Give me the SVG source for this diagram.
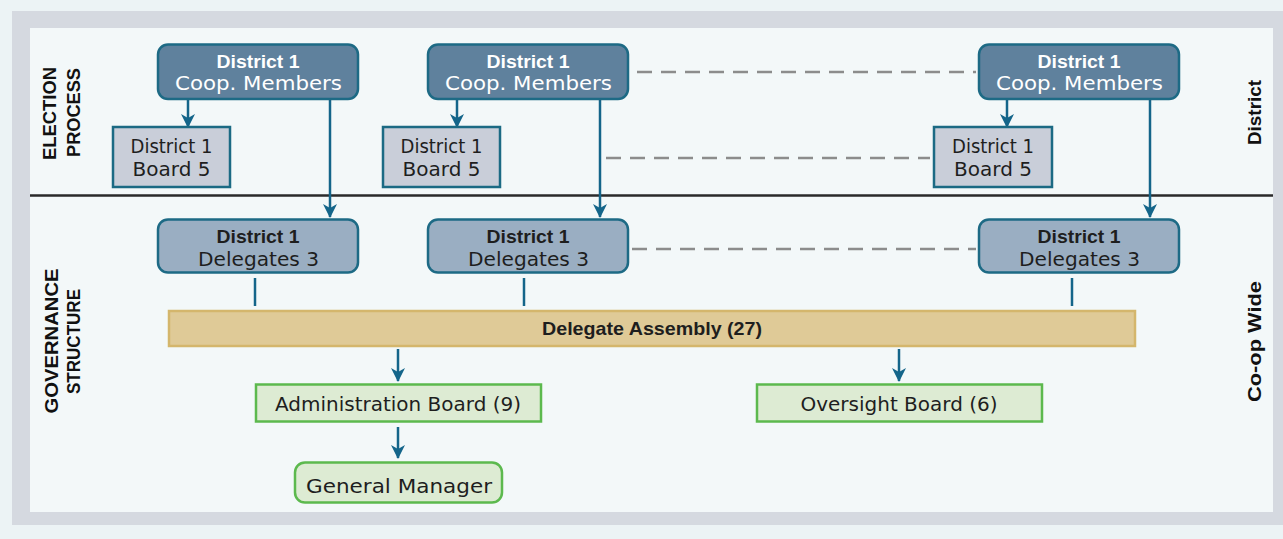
<svg xmlns="http://www.w3.org/2000/svg" width="1283" height="539" viewBox="0 0 1283 539">
<style>
.reg{font-family:"DejaVu Sans","Liberation Sans",sans-serif;font-size:19px;fill:#1e1e1e;text-anchor:middle}
.bold{font-family:"Liberation Sans",Arial,sans-serif;font-weight:bold;font-size:19px;fill:#1e1e1e;text-anchor:middle}
.lbl{font-family:"Liberation Sans",Arial,sans-serif;font-weight:bold;font-size:18px;fill:#111;text-anchor:middle}
.white{fill:#ffffff}
.coop{fill:#5f819d;stroke:#1d6a85;stroke-width:2.5}
.board{fill:#c9ced9;stroke:#1b6a84;stroke-width:2.5}
.deleg{fill:#9aaec2;stroke:#1d6a85;stroke-width:2.5}
.green{fill:#ddebd3;stroke:#5cb94e;stroke-width:2.5}
.arrow{stroke:#14658a;stroke-width:2.5;fill:none}
.dash{stroke:#8c8c8c;stroke-width:2.5;stroke-dasharray:15 9;fill:none}
</style>
<defs>
<marker id="ah" viewBox="0 0 14 14" refX="13" refY="7" markerWidth="14" markerHeight="14" markerUnits="userSpaceOnUse" orient="auto">
<path d="M0,0 L14,7 L0,14 L4,7 Z" fill="#14658a"/>
</marker>
</defs>
<rect x="0" y="0" width="1283" height="539" fill="#ecf3f5"/>
<rect x="12" y="11" width="1271" height="514" fill="#d5d9e0"/>
<rect x="30" y="28" width="1243" height="484" fill="#f3f8f9"/>
<line x1="30" y1="195.5" x2="1273" y2="195.5" stroke="#2a2a2a" stroke-width="2.5"/>

<g id="side-labels">
<text class="lbl" transform="translate(56,113.5) rotate(-90)" textLength="93" lengthAdjust="spacingAndGlyphs">ELECTION</text>
<text class="lbl" transform="translate(80,112.5) rotate(-90)" textLength="89" lengthAdjust="spacingAndGlyphs">PROCESS</text>
<text class="lbl" transform="translate(58,341) rotate(-90)" textLength="145" lengthAdjust="spacingAndGlyphs">GOVERNANCE</text>
<text class="lbl" transform="translate(80,341.5) rotate(-90)" textLength="105" lengthAdjust="spacingAndGlyphs">STRUCTURE</text>
<text class="lbl" transform="translate(1261,112.5) rotate(-90)" textLength="65" lengthAdjust="spacingAndGlyphs">District</text>
<text class="lbl" transform="translate(1261,341.5) rotate(-90)" textLength="121" lengthAdjust="spacingAndGlyphs">Co-op Wide</text>
</g>

<g id="connectors">
<line class="dash" x1="637" y1="72" x2="976" y2="72"/>
<line class="dash" x1="606" y1="158" x2="930" y2="158"/>
<line class="dash" x1="632" y1="249" x2="976" y2="249"/>
<line class="arrow" x1="188" y1="100" x2="188" y2="127" marker-end="url(#ah)"/>
<line class="arrow" x1="457" y1="100" x2="457" y2="127" marker-end="url(#ah)"/>
<line class="arrow" x1="1007" y1="100" x2="1007" y2="127" marker-end="url(#ah)"/>
<line class="arrow" x1="330" y1="100" x2="330" y2="217" marker-end="url(#ah)"/>
<line class="arrow" x1="600" y1="100" x2="600" y2="217" marker-end="url(#ah)"/>
<line class="arrow" x1="1150" y1="100" x2="1150" y2="217" marker-end="url(#ah)"/>
<line class="arrow" x1="255" y1="278" x2="255" y2="306"/>
<line class="arrow" x1="524" y1="278" x2="524" y2="306"/>
<line class="arrow" x1="1072" y1="278" x2="1072" y2="306"/>
<line class="arrow" x1="398" y1="349" x2="398" y2="381" marker-end="url(#ah)"/>
<line class="arrow" x1="899" y1="349" x2="899" y2="381" marker-end="url(#ah)"/>
<line class="arrow" x1="398" y1="427" x2="398" y2="458" marker-end="url(#ah)"/>
</g>

<g id="coop1">
<rect class="coop" x="158" y="44.5" width="200" height="54.5" rx="10"/>
<text class="bold white" x="258" y="68" textLength="83" lengthAdjust="spacingAndGlyphs">District 1</text>
<text class="reg white" x="258.5" y="90" textLength="167" lengthAdjust="spacingAndGlyphs">Coop. Members</text>
</g>
<g id="coop2">
<rect class="coop" x="428" y="44.5" width="200" height="54.5" rx="10"/>
<text class="bold white" x="528" y="68" textLength="83" lengthAdjust="spacingAndGlyphs">District 1</text>
<text class="reg white" x="528.5" y="90" textLength="167" lengthAdjust="spacingAndGlyphs">Coop. Members</text>
</g>
<g id="coop3">
<rect class="coop" x="979" y="44.5" width="200" height="54.5" rx="10"/>
<text class="bold white" x="1079" y="68" textLength="83" lengthAdjust="spacingAndGlyphs">District 1</text>
<text class="reg white" x="1079.5" y="90" textLength="167" lengthAdjust="spacingAndGlyphs">Coop. Members</text>
</g>

<g id="board1">
<rect class="board" x="113" y="127" width="117" height="60"/>
<text class="reg" x="171.5" y="153" textLength="82" lengthAdjust="spacingAndGlyphs">District 1</text>
<text class="reg" x="171.5" y="176" textLength="78" lengthAdjust="spacingAndGlyphs">Board 5</text>
</g>
<g id="board2">
<rect class="board" x="383" y="127" width="117" height="60"/>
<text class="reg" x="441.5" y="153" textLength="82" lengthAdjust="spacingAndGlyphs">District 1</text>
<text class="reg" x="441.5" y="176" textLength="78" lengthAdjust="spacingAndGlyphs">Board 5</text>
</g>
<g id="board3">
<rect class="board" x="934" y="127" width="118" height="60"/>
<text class="reg" x="993" y="153" textLength="82" lengthAdjust="spacingAndGlyphs">District 1</text>
<text class="reg" x="993" y="176" textLength="78" lengthAdjust="spacingAndGlyphs">Board 5</text>
</g>

<g id="deleg1">
<rect class="deleg" x="158" y="219.5" width="200" height="53" rx="10"/>
<text class="bold" x="258" y="243" textLength="83" lengthAdjust="spacingAndGlyphs">District 1</text>
<text class="reg" x="258.5" y="266" textLength="121" lengthAdjust="spacingAndGlyphs">Delegates 3</text>
</g>
<g id="deleg2">
<rect class="deleg" x="428" y="219.5" width="200" height="53" rx="10"/>
<text class="bold" x="528" y="243" textLength="83" lengthAdjust="spacingAndGlyphs">District 1</text>
<text class="reg" x="528.5" y="266" textLength="121" lengthAdjust="spacingAndGlyphs">Delegates 3</text>
</g>
<g id="deleg3">
<rect class="deleg" x="979" y="219.5" width="200" height="53" rx="10"/>
<text class="bold" x="1079" y="243" textLength="83" lengthAdjust="spacingAndGlyphs">District 1</text>
<text class="reg" x="1079.5" y="266" textLength="121" lengthAdjust="spacingAndGlyphs">Delegates 3</text>
</g>

<g id="assembly">
<rect x="169" y="311" width="966" height="35" fill="#dfca97" stroke="#d4b66c" stroke-width="2.5"/>
<text class="bold" x="652" y="335" textLength="220" lengthAdjust="spacingAndGlyphs">Delegate Assembly (27)</text>
</g>

<g id="admin">
<rect class="green" x="256" y="384.5" width="285" height="37"/>
<text class="reg" x="398" y="411" textLength="246" lengthAdjust="spacingAndGlyphs">Administration Board (9)</text>
</g>
<g id="oversight">
<rect class="green" x="757" y="384.5" width="285" height="37"/>
<text class="reg" x="899" y="411" textLength="197" lengthAdjust="spacingAndGlyphs">Oversight Board (6)</text>
</g>
<g id="gm">
<rect class="green" x="295" y="462.5" width="207" height="40" rx="10"/>
<text class="reg" x="399" y="493" textLength="186" lengthAdjust="spacingAndGlyphs">General Manager</text>
</g>
</svg>
